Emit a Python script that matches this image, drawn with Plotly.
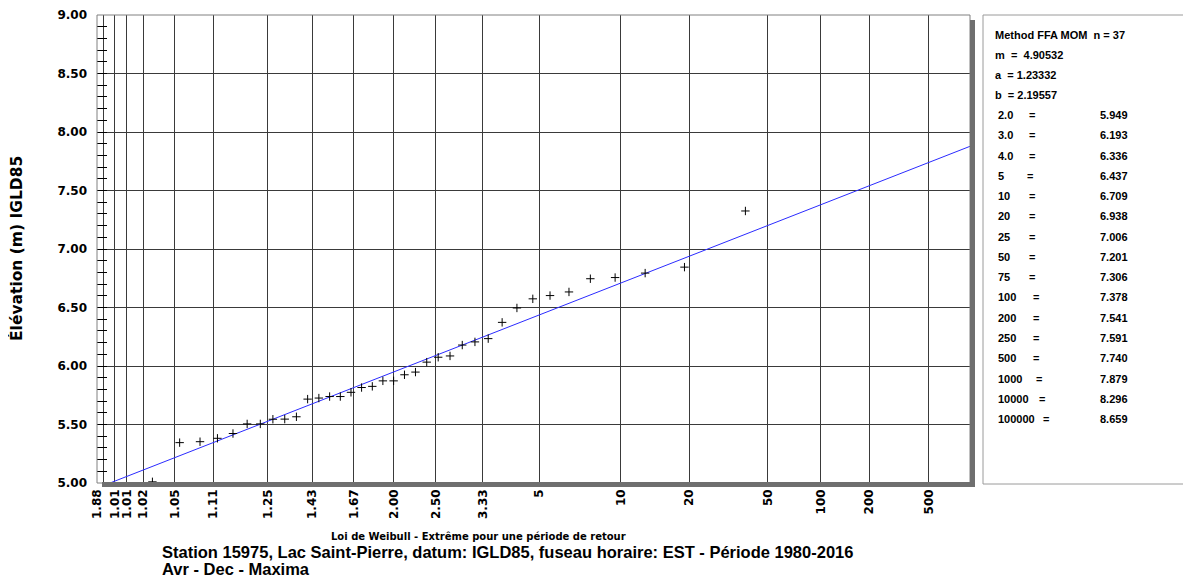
import numpy as np
import plotly.graph_objects as go

# ---------------------------------------------------------------- data
# fitted Weibull (method of moments) parameters
n_obs = 37
m_loc = 4.90532
a_scale = 1.23332
b_shape = 2.19557

# observed maxima sorted, with Weibull plotting-position return periods
return_periods = [1.027, 1.056, 1.086, 1.118, 1.152, 1.188, 1.226, 1.267, 1.310, 1.357,
                  1.407, 1.462, 1.520, 1.583, 1.652, 1.727, 1.810, 1.900, 2.000, 2.111,
                  2.235, 2.375, 2.533, 2.714, 2.923, 3.167, 3.455, 3.800, 4.222, 4.750,
                  5.429, 6.333, 7.600, 9.500, 12.667, 19.000, 38.000]
elevations = [5.010, 5.345, 5.353, 5.382, 5.423, 5.505, 5.505, 5.545, 5.546, 5.566,
              5.717, 5.726, 5.739, 5.739, 5.775, 5.816, 5.826, 5.873, 5.873, 5.925,
              5.948, 6.033, 6.075, 6.086, 6.179, 6.206, 6.234, 6.373, 6.496, 6.574,
              6.602, 6.633, 6.746, 6.756, 6.794, 6.845, 7.325]

# x-axis ticks (return period) and their printed labels
tick_periods = [1.001, 1.002, 1.005, 1.01, 1.02, 1.05, 1.11, 1.25, 1.43, 1.67, 2.0,
                2.5, 3.33, 5, 10, 20, 50, 100, 200, 500]
tick_labels = ["1.88", "", "1.01", "1.01", "1.02", "1.05", "1.11", "1.25", "1.43", "1.67",
               "2.00", "2.50", "3.33", "5", "10", "20", "50", "100", "200", "500"]

# return-period table in side panel
table_periods = ["2.0", "3.0", "4.0", "5", "10", "20", "25", "50", "75", "100",
                 "200", "250", "500", "1000", "10000", "100000"]
table_values = ["5.949", "6.193", "6.336", "6.437", "6.709", "6.938", "7.006", "7.201",
                "7.306", "7.378", "7.541", "7.591", "7.740", "7.879", "8.296", "8.659"]

x_title = "Loi de Weibull - Extrême pour une période de retour"
y_title = "Élévation (m) IGLD85"
caption_1 = "Station 15975, Lac Saint-Pierre, datum: IGLD85, fuseau horaire: EST - Période 1980-2016"
caption_2 = "Avr - Dec - Maxima"


def weibull_var(T):
    # reduced variate of Weibull paper: (ln T)^(1/b)
    return np.log(np.asarray(T, dtype=float)) ** (1.0 / b_shape)


# ---------------------------------------------------------------- layout geometry
# positions below are page pixels; the html body adds an 8px margin
OFF = 8
W, H = 1191 - OFF, 580 - OFF
L, R, T_, B = 97, 970, 15, 483


def px(x):
    return (x - L) / (R - L)


def py(y):
    return (B - y) / (B - T_)


tick_font = dict(family="DejaVu Sans", size=12, color="black", weight="bold")
panel_font = dict(family="Liberation Sans, Arial", size=11, color="black", weight="bold")
grid_col = "#3a3a3a"

fig = go.Figure()

# fitted line
w_line = np.array([0.0, 2.6])
fig.add_trace(go.Scatter(x=w_line, y=m_loc + a_scale * w_line, mode="lines",
                         line=dict(color="#2b2bff", width=1), hoverinfo="skip",
                         showlegend=False, cliponaxis=True))

# observations
fig.add_trace(go.Scatter(x=weibull_var(return_periods), y=elevations, mode="markers",
                         marker=dict(symbol="cross-thin", size=6,
                                     line=dict(width=1, color="black")),
                         showlegend=False))

fig.update_xaxes(range=[0.0415, 2.410], tickmode="array",
                 tickvals=weibull_var(tick_periods), ticktext=tick_labels,
                 tickangle=-90, tickfont=tick_font, showgrid=True, gridcolor=grid_col,
                 gridwidth=1, zeroline=False, ticks="", showline=False, automargin=False,
                 ticklabelstandoff=3)
fig.update_yaxes(range=[5.0, 9.0], tick0=5.0, dtick=0.5, tickformat=".2f",
                 tickfont=tick_font, showgrid=True, gridcolor=grid_col, gridwidth=1,
                 zeroline=False, ticks="inside", ticklen=10, tickcolor="black",
                 ticklabelstandoff=9, showline=False, automargin=False,
                 minor=dict(dtick=0.1, ticks="inside", ticklen=10, tickcolor="black",
                            showgrid=False))

shapes = [
    # plot frame
    dict(type="rect", xref="paper", yref="paper", x0=0, x1=1, y0=0, y1=1,
         line=dict(color="#808080", width=1)),
    # right / bottom shadow
    dict(type="rect", xref="paper", yref="paper", x0=px(970), x1=px(975), y0=py(487), y1=py(20),
         fillcolor="#6f6f6f", line=dict(width=0)),
    dict(type="rect", xref="paper", yref="paper", x0=px(102), x1=px(975), y0=py(487), y1=py(482),
         fillcolor="#6f6f6f", line=dict(width=0)),
    # side panel box
    dict(type="rect", xref="paper", yref="paper", x0=px(983), x1=px(1189), y0=py(484), y1=py(15),
         line=dict(color="#9a9a9a", width=1)),
]

ann = []


def add_text(x, y, text, font, xanchor="left", textangle=0):
    ann.append(dict(x=px(x), y=py(y), xref="paper", yref="paper", text=text,
                    showarrow=False, xanchor=xanchor, yanchor="middle", font=font,
                    textangle=textangle))


# titles
add_text(478, 536, x_title, dict(family="DejaVu Sans", size=10, color="black", weight="bold"),
         xanchor="center")
add_text(16, 249, y_title, dict(family="DejaVu Sans", size=15.5, color="black", weight="bold"),
         xanchor="center", textangle=-90)
cap_font = dict(family="Liberation Sans, Arial", size=16.5, color="black", weight="bold")
add_text(160, 552, caption_1, cap_font)
add_text(160, 569, caption_2, cap_font)

# side panel header
add_text(993, 35, f"Method FFA MOM\u00a0\u00a0n = {n_obs}", panel_font)
add_text(993, 55, "m", panel_font)
add_text(1009, 55, f"=\u00a0\u00a0{m_loc:.5f}", panel_font)
add_text(993, 75, f"a\u00a0\u00a0= {a_scale:.5f}", panel_font)
add_text(993, 95, f"b\u00a0\u00a0= {b_shape:.5f}", panel_font)

# side panel table
eq_x = [1032, 1032, 1032, 1030, 1032, 1032, 1032, 1032, 1032, 1036,
        1036, 1036, 1036, 1039, 1042, 1046]
for k, (lab, val) in enumerate(zip(table_periods, table_values)):
    yk = 115 + k * 20.27
    add_text(996, yk, lab, panel_font)
    add_text(eq_x[k], yk, "=", panel_font, xanchor="center")
    add_text(1098, yk, val, panel_font)

fig.update_layout(width=W, height=H,
                  margin=dict(l=L - OFF, r=W - (R - OFF), t=T_ - OFF, b=H - (B - OFF)),
                  plot_bgcolor="white", paper_bgcolor="white", shapes=shapes,
                  annotations=ann, showlegend=False)

fig.write_html("out.html")
